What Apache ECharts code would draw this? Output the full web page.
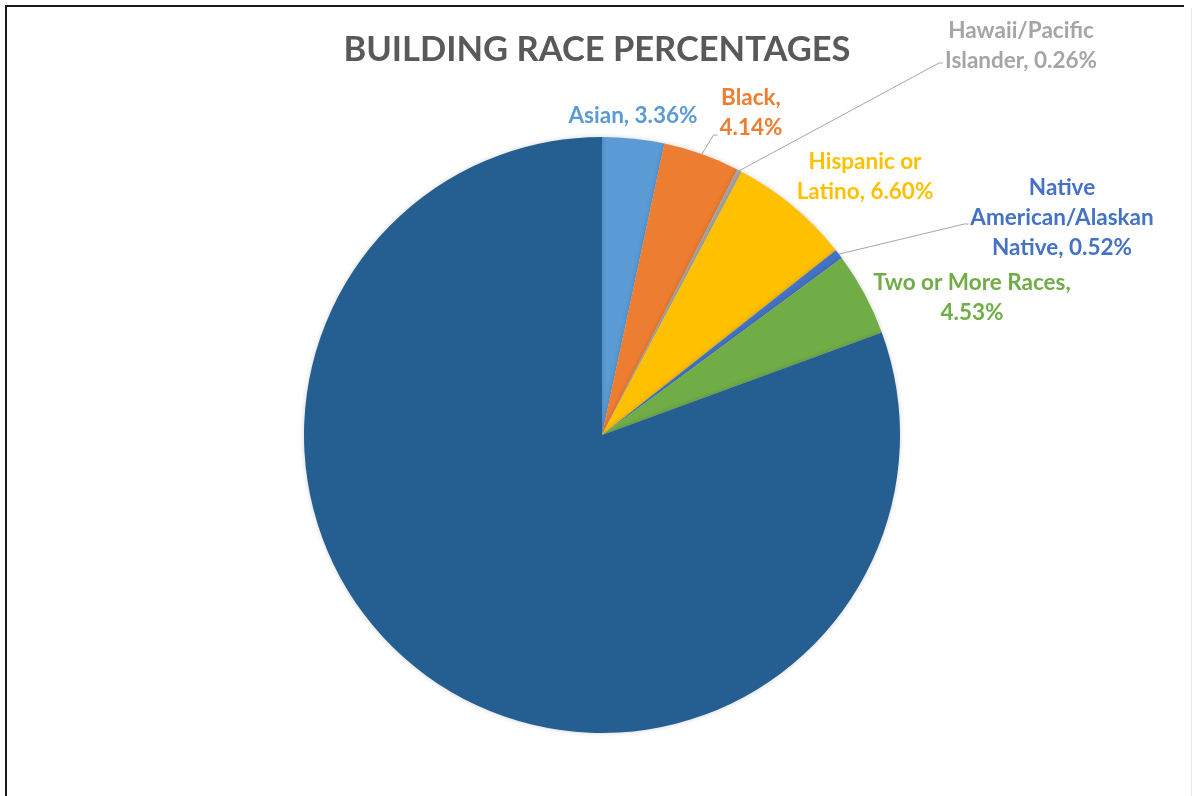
<!DOCTYPE html>
<html>
<head>
<meta charset="utf-8">
<title>Building Race Percentages</title>
<script src="https://cdn.jsdelivr.net/npm/echarts@6/dist/echarts.min.js"></script>
<style>
  html, body { margin: 0; padding: 0; background: #fff; }
  #chart { width: 1194px; height: 796px; }
</style>
</head>
<body>
<div id="chart"></div>
<script>
// Slices, clockwise from 12 o'clock
const categories = ['Asian', 'Black', 'Hawaii/Pacific Islander', 'Hispanic or Latino',
  'Native American/Alaskan Native', 'Two or More Races', 'White'];
const percentages = [3.36, 4.14, 0.26, 6.60, 0.52, 4.53, 80.59];
// How each label's name is wrapped, and what joins it to the value
const labelNames = ['Asian', 'Black', 'Hawaii/Pacific\nIslander', 'Hispanic or\nLatino',
  'Native\nAmerican/Alaskan\nNative', 'Two or More Races', 'White'];
const labelJoins = [', ', ',\n', ', ', ', ', ', ', ',\n', ', '];
const showLabel = [true, true, true, true, true, true, false];
const showLeader = [false, true, true, false, true, false, false];
const colors = ['#5B9BD5', '#ED7D31', '#A5A5A5', '#FFC000', '#4472C4', '#70AD47', '#255E91'];

// label centre [x, y] and the vertical offset where its leader line ends
const labelPlacement = [
  [633, 116, 0],
  [751, 113, 22],
  [1021, 46, 17],
  [865, 177, 0],
  [1062, 218, 6],
  [972, 298, 0],
  null
];

const chart = echarts.init(document.getElementById('chart'), null, { renderer: 'canvas' });

const data = categories.map((name, i) => ({
  name: name,
  value: percentages[i],
  itemStyle: { color: colors[i] },
  label: { show: showLabel[i], color: colors[i] },
  labelLine: { show: showLeader[i] }
}));

chart.setOption({
  animation: false,
  backgroundColor: '#ffffff',
  title: {
    text: 'BUILDING RACE PERCENTAGES',
    left: 'center',
    top: 27,
    textStyle: {
      fontFamily: 'Lato',
      fontWeight: 'bold',
      fontSize: 34.5,
      color: '#595959'
    }
  },
  graphic: [
    { type: 'line', shape: { x1: 5, y1: 6, x2: 1184, y2: 6 }, style: { stroke: '#1a1a1a', lineWidth: 2 } },
    { type: 'line', shape: { x1: 6, y1: 6, x2: 6, y2: 796 }, style: { stroke: '#1a1a1a', lineWidth: 2 } },
    { type: 'line', shape: { x1: 1191.5, y1: 8, x2: 1191.5, y2: 796 }, style: { stroke: '#e6e6e6', lineWidth: 1 } }
  ],
  series: [{
    type: 'pie',
    center: [602, 435],
    radius: 298,
    startAngle: 90,
    clockwise: true,
    avoidLabelOverlap: false,
    itemStyle: {
      borderWidth: 0,
      shadowBlur: 5,
      shadowColor: 'rgba(0,0,0,0.18)'
    },
    label: {
      position: 'outside',
      fontFamily: 'Lato',
      fontWeight: 'bold',
      fontSize: 22.5,
      lineHeight: 30,
      align: 'center',
      formatter: p => labelNames[p.dataIndex] + labelJoins[p.dataIndex] + p.value.toFixed(2) + '%'
    },
    labelLine: {
      show: true,
      length: 10,
      length2: 10,
      smooth: false,
      lineStyle: { color: '#a6a6a6', width: 1 }
    },
    labelLayout: function (params) {
      const pl = labelPlacement[params.dataIndex];
      if (!pl) return {};
      const out = { x: pl[0], y: pl[1], align: 'center', verticalAlign: 'middle' };
      const pts = params.labelLinePoints;
      if (showLeader[params.dataIndex] && pts) {
        const left = pl[0] - params.labelRect.width / 2;
        const ey = pl[1] + pl[2];
        out.labelLinePoints = [pts[0], [left - 6, ey], [left - 2, ey]];
      }
      return out;
    },
    data: data
  }]
});
</script>
</body>
</html>
